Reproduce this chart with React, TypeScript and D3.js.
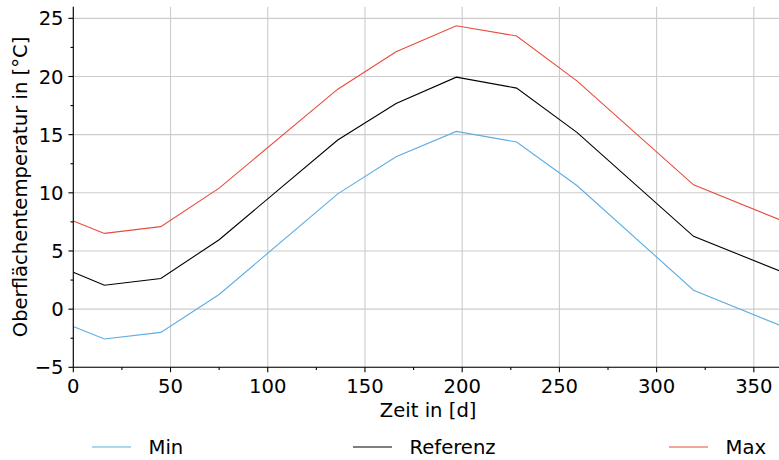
import React from "react";
import * as d3 from "d3";

const days = [0, 16, 45, 75, 136, 166, 197, 228, 259, 319, 365];
const minValues = [-1.5, -2.57, -2.0, 1.26, 9.91, 13.1, 15.28, 14.37, 10.63, 1.63, -1.5];
const refValues = [3.17, 2.06, 2.63, 5.97, 14.54, 17.68, 19.94, 19.0, 15.2, 6.26, 3.17];
const maxValues = [7.57, 6.51, 7.09, 10.4, 18.91, 22.13, 24.36, 23.48, 19.62, 10.69, 7.57];
const seriesNames = ["Min", "Referenz", "Max"];
const seriesColors = ["#5dade2", "#000000", "#e74c3c"];
const xTicks = [0, 50, 100, 150, 200, 250, 300, 350];
const xMinorTicks = [25, 75, 125, 175, 225, 275, 325];
const yTicks = [-5, 0, 5, 10, 15, 20, 25];
const yMinorTicks = [-2.5, 2.5, 7.5, 12.5, 17.5, 22.5];

const W = 779;
const H = 460;
const FONT = "'DejaVu Sans', sans-serif";
const FS = 19.6;

export default function App() {
  const x = d3.scaleLinear().domain([0, 365]).range([73.3, 783]);
  const y = d3.scaleLinear().domain([-5, 26]).range([367.3, 6.7]);
  const series = [minValues, refValues, maxValues];
  const line = d3
    .line<number>()
    .x((_, i) => x(days[i]))
    .y((v) => y(v));
  const [x0, x1] = x.range();
  const [y0, y1] = y.range();
  const legendX = [92, 353, 669];
  const legendY = 447;

  return (
    <svg
      width={W}
      height={H}
      style={{ position: "absolute", left: 0, top: 0, background: "#fff" }}
      fontFamily={FONT}
    >
      <defs>
        <clipPath id="plotArea">
          <rect x={x0} y={y1} width={x1 - x0} height={y0 - y1} />
        </clipPath>
      </defs>
      {/* grid */}
      <g stroke="#cccccc" strokeWidth={1.1}>
        {xTicks.map((t) => (
          <line key={"gx" + t} x1={x(t)} x2={x(t)} y1={y0} y2={y1} />
        ))}
        {yTicks.map((t) => (
          <line key={"gy" + t} x1={x0} x2={x1} y1={y(t)} y2={y(t)} />
        ))}
      </g>
      {/* lines */}
      <g clipPath="url(#plotArea)" fill="none">
        {series.map((s, i) => (
          <path key={i} d={line(s) || ""} stroke={seriesColors[i]} strokeWidth={1.1} />
        ))}
      </g>
      {/* spines */}
      <g stroke="#000" strokeWidth={1.1}>
        <line x1={x0} x2={x0} y1={y0} y2={y1} />
        <line x1={x0} x2={x1} y1={y0} y2={y0} />
        {xTicks.map((t) => (
          <line key={"tx" + t} x1={x(t)} x2={x(t)} y1={y0} y2={y0 + 4.86} />
        ))}
        {xMinorTicks.map((t) => (
          <line key={"mx" + t} x1={x(t)} x2={x(t)} y1={y0} y2={y0 + 2.78} />
        ))}
        {yTicks.map((t) => (
          <line key={"ty" + t} x1={x0} x2={x0 - 4.86} y1={y(t)} y2={y(t)} />
        ))}
        {yMinorTicks.map((t) => (
          <line key={"my" + t} x1={x0} x2={x0 - 2.78} y1={y(t)} y2={y(t)} />
        ))}
      </g>
      {/* tick labels */}
      <g fontSize={FS} fill="#000">
        {xTicks.map((t) => (
          <text key={"lx" + t} x={x(t)} y={392.5} textAnchor="middle">
            {t}
          </text>
        ))}
        {yTicks.map((t) => (
          <text key={"ly" + t} x={x0 - 9.7} y={y(t)} dy="0.36em" textAnchor="end">
            {t < 0 ? "\u2212" + Math.abs(t) : t}
          </text>
        ))}
      </g>
      {/* axis labels */}
      <text x={(73.3 + 783) / 2} y={416.5} fontSize={FS} textAnchor="middle">
        Zeit in [d]
      </text>
      <text
        transform={`translate(27, ${(y0 + y1) / 2}) rotate(-90)`}
        fontSize={FS}
        textAnchor="middle"
      >
        Oberflächentemperatur in [°C]
      </text>
      {/* legend */}
      {seriesNames.map((name, i) => (
        <g key={name}>
          <line
            x1={legendX[i]}
            x2={legendX[i] + 39}
            y1={legendY}
            y2={legendY}
            stroke={seriesColors[i]}
            strokeWidth={1.1}
          />
          <text x={legendX[i] + 56.5} y={legendY} dy="0.36em" fontSize={FS}>
            {name}
          </text>
        </g>
      ))}
    </svg>
  );
}
